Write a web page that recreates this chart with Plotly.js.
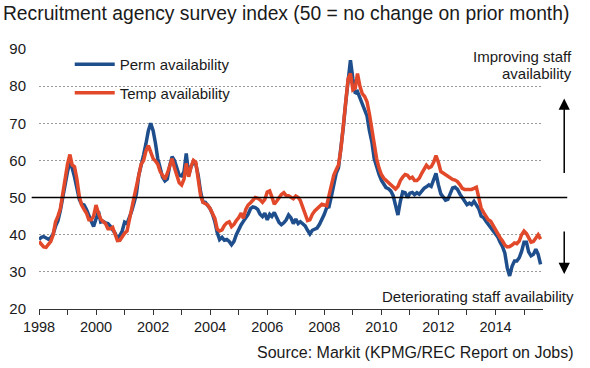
<!DOCTYPE html>
<html><head><meta charset="utf-8">
<script src="https://cdn.plot.ly/plotly-3.0.1.min.js"></script>
<style>html,body{margin:0;padding:0;background:#fff}#chart{width:590px;height:368px}</style>
</head><body><div id="chart"></div>
<script>
const startYear = 1998;
const seriesNames = ['Perm availability', 'Temp availability'];
const permAvailability = [
  38.7, 39.3, 39.5, 39.0, 38.8, 39.2, 40.2, 42.3, 43.8, 46.5, 50.0, 54.0,
  57.0, 59.5, 58.0, 55.5, 53.0, 49.5, 48.2, 48.0, 46.8, 45.0, 43.6, 42.2,
  44.0, 46.3, 43.4, 43.6, 43.2, 43.0, 42.3, 41.5, 40.4, 39.0, 39.8, 41.0,
  43.4, 43.0, 44.5, 46.3, 48.5, 51.0, 56.0, 58.5, 61.5, 64.5, 68.0, 70.0,
  68.0, 64.5, 60.5, 58.0, 55.5, 54.5, 55.0, 58.5, 61.0, 60.0, 58.0, 56.0,
  55.8, 57.0, 61.9, 56.0, 58.3, 59.5, 59.0, 56.0, 51.5, 48.8, 48.7, 48.0,
  47.0, 45.5, 43.5, 40.5, 38.7, 39.3, 38.5, 38.7, 38.2, 37.3, 38.2, 40.0,
  41.5, 42.7, 43.6, 44.5, 45.5, 47.0, 47.5, 47.3, 46.8, 45.5, 44.9, 45.8,
  44.0, 45.5, 44.9, 46.0, 44.4, 43.3, 42.7, 43.2, 44.0, 45.3, 44.5, 43.0,
  44.2, 43.0, 43.5, 43.0, 42.4, 41.2, 40.2, 41.2, 41.5, 41.8, 42.8, 44.0,
  45.5, 47.3, 47.5, 50.3, 54.0, 56.5, 58.0, 63.0, 69.0, 75.5, 81.5, 87.0,
  82.0, 78.0, 78.5, 77.0, 75.5, 74.0, 72.0, 68.0, 65.0, 60.5, 58.0, 56.3,
  54.7, 53.5, 52.7, 52.4, 51.8, 50.5, 47.5, 45.3, 49.0, 51.5, 51.3, 50.0,
  51.2, 51.4, 50.8, 51.3, 50.9, 51.8, 52.5, 52.9, 53.4, 53.0, 55.0, 56.5,
  53.4, 51.0, 50.2, 49.3, 49.5, 51.3, 52.6, 52.8, 52.2, 51.0, 50.0, 48.8,
  48.1, 48.5, 48.1, 49.0, 48.1, 47.0, 45.0, 44.6, 43.6, 42.7, 41.8, 41.0,
  40.2, 39.3, 38.0, 36.8, 35.0, 31.0, 28.9, 31.5, 32.9, 32.9, 33.8, 35.5,
  38.0, 38.0, 35.4, 34.3, 34.7, 36.1, 34.7, 32.0
];
const tempAvailability = [
  38.2, 37.4, 36.7, 36.6, 37.3, 38.2, 40.0, 43.5, 45.0, 47.0, 51.0, 55.5,
  59.0, 61.6, 58.8, 58.3, 55.0, 50.3, 48.0, 46.8, 45.8, 44.0, 44.0, 45.0,
  48.0, 45.8, 44.2, 43.5, 43.0, 41.6, 41.6, 42.0, 40.0, 38.4, 38.5, 39.5,
  40.4, 41.0, 43.5, 46.5, 50.0, 53.0, 56.5, 59.0, 60.0, 62.5, 64.0, 62.5,
  60.5, 59.8, 59.0, 57.0, 56.0, 55.0, 56.5, 58.5, 60.5, 58.0, 55.5, 54.0,
  53.4, 55.0, 59.2, 55.6, 58.3, 60.0, 59.5, 55.4, 50.5, 48.7, 48.4, 48.0,
  47.0, 45.5, 44.4, 41.5, 41.0, 41.3, 42.5, 43.2, 43.5, 42.2, 42.8, 43.8,
  44.6, 45.8, 44.4, 46.8, 48.0, 48.6, 49.3, 50.0, 49.8, 49.4, 48.7, 49.5,
  51.5, 51.8, 50.2, 48.2, 49.0, 50.0, 50.8, 51.3, 50.5, 50.5, 50.0, 49.7,
  50.4, 50.0, 49.2, 47.5, 46.0, 43.8, 44.0, 45.5, 46.4, 47.0, 47.8, 48.2,
  48.0, 47.8, 50.5, 53.5, 56.0, 57.5, 58.8, 63.0, 69.0, 76.0, 82.0, 83.4,
  79.0, 79.5, 83.4, 80.0, 78.0, 77.2, 75.8, 72.5, 68.6, 63.5, 60.5, 58.0,
  56.2, 55.2, 54.6, 54.2, 53.5, 52.8, 52.3, 53.0, 54.6, 55.5, 56.2, 56.0,
  55.2, 55.5, 54.6, 54.6, 55.2, 56.5, 57.8, 58.7, 58.0, 58.3, 59.5, 61.3,
  59.5, 57.0, 56.6, 56.1, 55.6, 55.2, 54.9, 54.7, 54.3, 53.5, 52.5, 52.2,
  52.2, 52.0, 52.2, 52.5, 52.8, 50.0, 47.2, 46.0, 44.9, 44.0, 43.6, 42.4,
  41.2, 40.2, 39.2, 38.3, 37.2, 36.7, 36.8, 37.2, 37.8, 37.6, 38.3, 40.0,
  41.0, 40.3, 39.0, 38.0, 38.2, 39.0, 40.0, 38.8
];
const yTicks = [20, 30, 40, 50, 60, 70, 80, 90];
const noChangeLevel = 50;

const months = permAvailability.map((_, i) => {
  const y = startYear + Math.floor(i / 12);
  const m = (i % 12) + 1;
  return y + '-' + String(m).padStart(2, '0') + '-01';
});

const FONT = 'Liberation Sans, Arial, sans-serif';
const px = (p) => (p - 39.3) / 503.5;          // paper x from pixel
const py = (p) => (309.5 - p) / 260.5;         // paper y from pixel

const traces = [
  {x: months, y: permAvailability, name: seriesNames[0], type: 'scatter', mode: 'lines',
   line: {color: '#1f4e8c', width: 3.5}, legendgroup: 'a', hoverinfo: 'skip'},
  {x: months, y: tempAvailability, name: seriesNames[1], type: 'scatter', mode: 'lines',
   line: {color: '#e2492b', width: 3.5}, legendgroup: 'b', hoverinfo: 'skip'}
];

const layout = {
  width: 590, height: 368,
  margin: {l: 39.3, r: 47.2, t: 49, b: 58.5},
  paper_bgcolor: '#fff', plot_bgcolor: '#fff',
  font: {family: FONT, size: 15, color: '#1a1a1a'},
  title: {text: 'Recruitment agency survey index (50 = no change on prior month)',
          x: 0.005, xanchor: 'left', xref: 'container', y: 1 - 13 / 368, yanchor: 'middle', yref: 'container',
          font: {family: FONT, size: 19.3, color: '#1a1a1a'}},
  showlegend: true,
  legend: {x: px(70), y: py(48), xanchor: 'left', yanchor: 'top', bgcolor: 'rgba(0,0,0,0)',
           traceorder: 'grouped', tracegroupgap: 6, itemwidth: 40,
           font: {family: FONT, size: 15, color: '#1a1a1a'}},
  xaxis: {type: 'date', range: ['1998-01-01', '2015-09-01'], tick0: '1998-01-01', dtick: 'M24',
          tickformat: '%Y', ticks: 'outside', ticklen: 5, tickcolor: '#333', tickwidth: 1,
          showline: true, linecolor: '#333', linewidth: 1, showgrid: false, zeroline: false,
          minor: {dtick: 'M12', tick0: '1998-01-01', ticks: 'outside', ticklen: 5, tickcolor: '#333', tickwidth: 1, showgrid: false},
          tickfont: {family: FONT, size: 14.5, color: '#1a1a1a'}, fixedrange: true},
  yaxis: {range: [20, 90], tickvals: yTicks, ticks: '', showline: false, showgrid: true,
          gridcolor: '#9a9a9a', griddash: '2px,2px', gridwidth: 1, zeroline: false,
          ticklabelstandoff: 12, tickfont: {family: FONT, size: 15, color: '#1a1a1a'}, fixedrange: true},
  shapes: [
    {type: 'rect', xref: 'paper', yref: 'paper', x0: px(45), x1: px(267), y0: py(110), y1: py(55),
     fillcolor: '#fff', line: {width: 0}, layer: 'between'},
    {type: 'line', xref: 'paper', yref: 'y', x0: px(32), x1: px(567), y0: noChangeLevel, y1: noChangeLevel,
     line: {color: '#000', width: 1.6}, layer: 'above'}
  ],
  annotations: [
    {text: 'Improving staff', xref: 'paper', yref: 'paper', x: px(574), y: py(57), xanchor: 'right', yanchor: 'middle', showarrow: false},
    {text: 'availability', xref: 'paper', yref: 'paper', x: px(574), y: py(74), xanchor: 'right', yanchor: 'middle', showarrow: false},
    {text: 'Deteriorating staff availability', xref: 'paper', yref: 'paper', x: px(576), y: py(297), xanchor: 'right', yanchor: 'middle', showarrow: false},
    {text: 'Source: Markit (KPMG/REC Report on Jobs)', xref: 'paper', yref: 'paper', x: px(576), y: py(353), xanchor: 'right', yanchor: 'middle', showarrow: false,
     font: {family: FONT, size: 16, color: '#1a1a1a'}},
    {text: '', xref: 'paper', yref: 'y', x: px(564), y: 76.7, ax: 0, ay: 76, axref: 'pixel', ayref: 'pixel',
     showarrow: true, arrowhead: 2, arrowsize: 1.5, arrowwidth: 1.5, arrowcolor: '#000', standoff: 0},
    {text: '', xref: 'paper', yref: 'y', x: px(564), y: 29.4, ax: 0, ay: -44, axref: 'pixel', ayref: 'pixel',
     showarrow: true, arrowhead: 2, arrowsize: 1.5, arrowwidth: 1.5, arrowcolor: '#000', standoff: 0}
  ]
};

Plotly.newPlot('chart', traces, layout, {staticPlot: true, displayModeBar: false});
</script>
</body></html>
